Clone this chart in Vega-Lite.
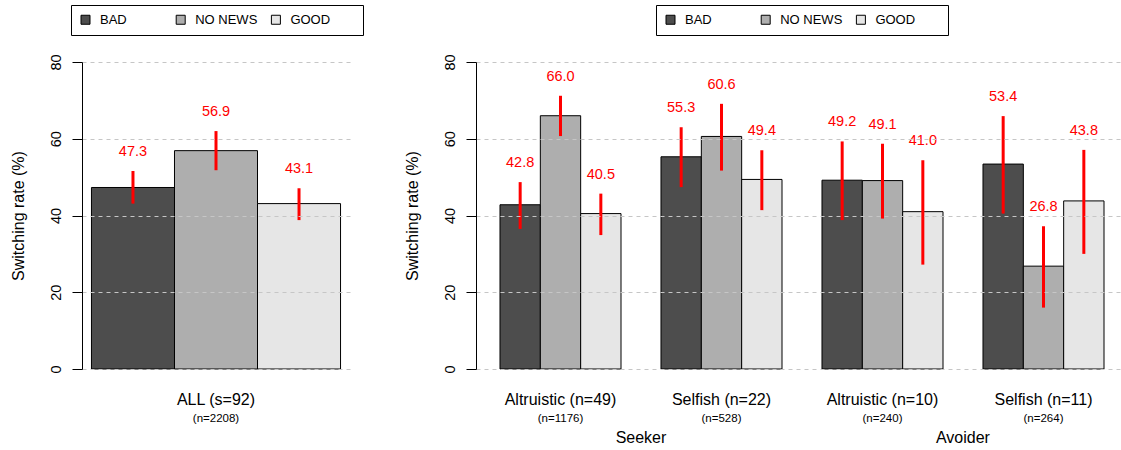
{
  "$schema": "https://vega.github.io/schema/vega-lite/v6.json",
  "background": "white",
  "padding": {"left": 10, "top": 4, "right": 1, "bottom": 0},
  "bounds": "flush",
  "spacing": 126,
  "config": {
    "font": "Liberation Sans",
    "view": {"stroke": null},
    "axisY": {
      "domainColor": "black", "domainWidth": 1,
      "tickColor": "black", "tickSize": 10, "tickWidth": 1,
      "labelAngle": 270, "labelAlign": "center", "labelBaseline": "alphabetic",
      "labelPadding": 12, "labelFontSize": 14.5, "labelColor": "black",
      "grid": true, "gridDash": [4, 4], "gridColor": "#c6c6c6", "gridWidth": 1,
      "titleFontSize": 16, "titleFontWeight": "normal", "titleColor": "black", "titlePadding": 22,
      "zindex": 1
    },
    "axisX": {
      "domain": false, "ticks": false, "tickSize": 0, "grid": false,
      "labelFontSize": 16, "labelPadding": 22, "labelColor": "black", "labelAngle": 0, "labelBaseline": "top"
    },
    "legend": {
      "orient": "none", "direction": "horizontal", "columns": 3, "gridAlign": "all",
      "columnPadding": 11.2, "padding": 8, "strokeColor": "black", "strokeWidth": 1,
      "symbolType": "square", "symbolSize": 81, "symbolStrokeColor": "black", "symbolStrokeWidth": 1,
      "labelFontSize": 13, "labelColor": "black", "labelOffset": 8,
      "titleOrient": "right", "titleFontSize": 13, "titlePadding": 25
    }
  },
  "datasets": {
    "all": [
      {"group": "ALL (s=92)", "news": "BAD", "rate": 47.3, "lo": 43.1, "hi": 51.6, "nlab": "(n=2208)"},
      {"group": "ALL (s=92)", "news": "NO NEWS", "rate": 56.9, "lo": 51.8, "hi": 62.0, "nlab": "(n=2208)"},
      {"group": "ALL (s=92)", "news": "GOOD", "rate": 43.1, "lo": 38.8, "hi": 47.1, "nlab": "(n=2208)"}
    ],
    "types": [
      {"group": "Altruistic (n=49)", "role": "Seeker", "news": "BAD", "rate": 42.8, "lo": 36.5, "hi": 48.7, "nlab": "(n=1176)"},
      {"group": "Altruistic (n=49)", "role": "Seeker", "news": "NO NEWS", "rate": 66.0, "lo": 60.7, "hi": 71.2, "nlab": "(n=1176)"},
      {"group": "Altruistic (n=49)", "role": "Seeker", "news": "GOOD", "rate": 40.5, "lo": 34.9, "hi": 45.7, "nlab": "(n=1176)"},
      {"group": "Selfish (n=22)", "role": "Seeker", "news": "BAD", "rate": 55.3, "lo": 47.4, "hi": 63.0, "nlab": "(n=528)"},
      {"group": "Selfish (n=22)", "role": "Seeker", "news": "NO NEWS", "rate": 60.6, "lo": 51.7, "hi": 69.1, "nlab": "(n=528)"},
      {"group": "Selfish (n=22)", "role": "Seeker", "news": "GOOD", "rate": 49.4, "lo": 41.4, "hi": 57.0, "nlab": "(n=528)"},
      {"group": "Altruistic (n=10)", "role": "Avoider", "news": "BAD", "rate": 49.2, "lo": 38.8, "hi": 59.3, "nlab": "(n=240)"},
      {"group": "Altruistic (n=10)", "role": "Avoider", "news": "NO NEWS", "rate": 49.1, "lo": 39.2, "hi": 58.7, "nlab": "(n=240)"},
      {"group": "Altruistic (n=10)", "role": "Avoider", "news": "GOOD", "rate": 41.0, "lo": 27.2, "hi": 54.4, "nlab": "(n=240)"},
      {"group": "Selfish (n=11)", "role": "Avoider", "news": "BAD", "rate": 53.4, "lo": 40.5, "hi": 65.9, "nlab": "(n=264)"},
      {"group": "Selfish (n=11)", "role": "Avoider", "news": "NO NEWS", "rate": 26.8, "lo": 16.0, "hi": 37.2, "nlab": "(n=264)"},
      {"group": "Selfish (n=11)", "role": "Avoider", "news": "GOOD", "rate": 43.8, "lo": 30.0, "hi": 57.1, "nlab": "(n=264)"}
    ],
    "roles": [
      {"role": "Seeker", "group": "Altruistic (n=49)"},
      {"role": "Avoider", "group": "Altruistic (n=10)"}
    ]
  },
  "hconcat": [
    {
      "width": 268,
      "height": 307,
      "data": {"name": "all"},
      "layer": [
        {
          "mark": {"type": "bar", "stroke": "black", "strokeWidth": 1},
          "encoding": {
            "x": {"field": "group", "type": "nominal", "scale": {"domain": ["ALL (s=92)"], "paddingInner": 0, "paddingOuter": 0.038}, "axis": {"title": null}},
            "xOffset": {"field": "news", "type": "nominal", "scale": {"domain": ["BAD", "NO NEWS", "GOOD"], "paddingInner": 0, "paddingOuter": 0}},
            "y": {"field": "rate", "type": "quantitative", "scale": {"domain": [0, 80], "nice": false}, "axis": {"title": "Switching rate (%)", "values": [0, 20, 40, 60, 80], "zindex": 1}},
            "fill": {"field": "news", "type": "nominal", "scale": {"domain": ["BAD", "NO NEWS", "GOOD"], "range": ["#4D4D4D", "#AEAEAE", "#E6E6E6"]}, "legend": {"title": " ", "legendX": -11, "legendY": -57}}
          }
        },
        {
          "mark": {"type": "rule", "color": "red", "strokeWidth": 3},
          "encoding": {
            "x": {"field": "group", "type": "nominal"},
            "xOffset": {"field": "news", "type": "nominal"},
            "y": {"field": "lo", "type": "quantitative", "axis": {"title": "Switching rate (%)", "zindex": 1}},
            "y2": {"field": "hi"}
          }
        },
        {
          "mark": {"type": "text", "color": "red", "fontSize": 14.5, "align": "center", "baseline": "middle", "dy": -19},
          "encoding": {
            "x": {"field": "group", "type": "nominal"},
            "xOffset": {"field": "news", "type": "nominal"},
            "y": {"field": "hi", "type": "quantitative", "axis": {"title": "Switching rate (%)", "zindex": 1}},
            "text": {"field": "rate", "type": "quantitative", "format": ".1f"}
          }
        },
        {
          "transform": [{"filter": "datum.news === 'NO NEWS'"}],
          "mark": {"type": "text", "color": "black", "fontSize": 11.5, "align": "center", "baseline": "middle", "dy": 50},
          "encoding": {
            "x": {"field": "group", "type": "nominal"},
            "y": {"datum": 0, "type": "quantitative"},
            "text": {"field": "nlab"}
          }
        }
      ]
    },
    {
      "width": 644,
      "height": 307,
      "layer": [
        {
          "data": {"name": "types"},
          "mark": {"type": "bar", "stroke": "black", "strokeWidth": 1},
          "encoding": {
            "x": {"field": "group", "type": "nominal", "scale": {"domain": ["Altruistic (n=49)", "Selfish (n=22)", "Altruistic (n=10)", "Selfish (n=11)"], "paddingInner": 0.2484, "paddingOuter": 0.1242, "align": 0.6}, "axis": {"title": null}},
            "xOffset": {"field": "news", "type": "nominal", "scale": {"domain": ["BAD", "NO NEWS", "GOOD"], "paddingInner": 0, "paddingOuter": 0}},
            "y": {"field": "rate", "type": "quantitative", "scale": {"domain": [0, 80], "nice": false}, "axis": {"title": "Switching rate (%)", "values": [0, 20, 40, 60, 80], "zindex": 1}},
            "fill": {"field": "news", "type": "nominal", "scale": {"domain": ["BAD", "NO NEWS", "GOOD"], "range": ["#4D4D4D", "#AEAEAE", "#E6E6E6"]}, "legend": {"title": " ", "legendX": 180, "legendY": -57}}
          }
        },
        {
          "data": {"name": "types"},
          "mark": {"type": "rule", "color": "red", "strokeWidth": 3},
          "encoding": {
            "x": {"field": "group", "type": "nominal"},
            "xOffset": {"field": "news", "type": "nominal"},
            "y": {"field": "lo", "type": "quantitative", "axis": {"title": "Switching rate (%)", "zindex": 1}},
            "y2": {"field": "hi"}
          }
        },
        {
          "data": {"name": "types"},
          "mark": {"type": "text", "color": "red", "fontSize": 14.5, "align": "center", "baseline": "middle", "dy": -19},
          "encoding": {
            "x": {"field": "group", "type": "nominal"},
            "xOffset": {"field": "news", "type": "nominal"},
            "y": {"field": "hi", "type": "quantitative", "axis": {"title": "Switching rate (%)", "zindex": 1}},
            "text": {"field": "rate", "type": "quantitative", "format": ".1f"}
          }
        },
        {
          "data": {"name": "types"},
          "transform": [{"filter": "datum.news === 'NO NEWS'"}],
          "mark": {"type": "text", "color": "black", "fontSize": 11.5, "align": "center", "baseline": "middle", "dy": 50},
          "encoding": {
            "x": {"field": "group", "type": "nominal"},
            "y": {"datum": 0, "type": "quantitative"},
            "text": {"field": "nlab"}
          }
        },
        {
          "data": {"name": "roles"},
          "mark": {"type": "text", "color": "black", "fontSize": 16, "align": "center", "baseline": "middle", "dy": 69},
          "encoding": {
            "x": {"field": "group", "type": "nominal", "bandPosition": 1.165},
            "y": {"datum": 0, "type": "quantitative"},
            "text": {"field": "role"}
          }
        }
      ]
    }
  ],
  "resolve": {
    "scale": {"x": "independent", "xOffset": "independent", "y": "independent", "fill": "independent"},
    "legend": {"fill": "independent"}
  }
}
